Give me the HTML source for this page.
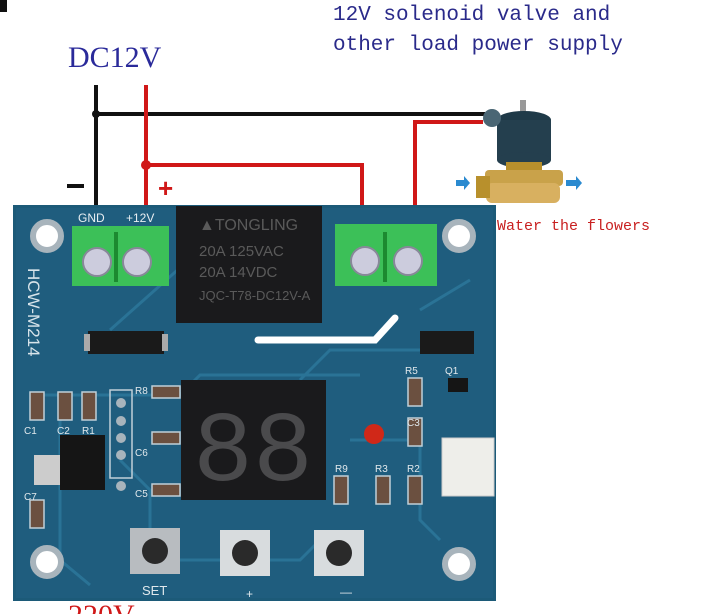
<!DOCTYPE html>
<html><head><meta charset="utf-8"><style>
html,body{margin:0;padding:0;background:#fff;width:701px;height:614px;overflow:hidden}
svg{display:block}
text{font-family:"Liberation Sans",sans-serif}
.serif{font-family:"Liberation Serif",serif}
.mono{font-family:"Liberation Mono",monospace}
</style></head><body>
<svg width="701" height="614" viewBox="0 0 701 614" xmlns="http://www.w3.org/2000/svg">
<rect width="701" height="614" fill="#fff"/>
<rect x="0" y="0" width="7" height="12" fill="#111"/>
<text x="333" y="20" class="mono" font-size="21" fill="#2a2a8a">12V solenoid valve and</text>
<text x="333" y="50" class="mono" font-size="21" fill="#2a2a8a">other load power supply</text>
<text x="68" y="67" class="serif" font-size="30" fill="#2a2a9a">DC12V</text>
<g fill="none" stroke-width="4">
<path d="M96 85 V210" stroke="#111"/>
<path d="M96 114 H485" stroke="#111"/>
<path d="M146 85 V210" stroke="#d01818"/>
<path d="M146 165 H362 V210" stroke="#d01818"/>
<path d="M415 210 V122 H483" stroke="#d01818"/>
</g>
<circle cx="96" cy="114" r="4" fill="#111"/>
<circle cx="146" cy="165" r="5" fill="#d01818"/>
<rect x="67" y="184" width="17" height="4" fill="#111"/>
<text x="158" y="197" font-size="26" font-weight="bold" fill="#d01818">+</text>
<!-- valve -->
<rect x="520" y="100" width="6" height="16" fill="#999"/>
<ellipse cx="524" cy="120" rx="27" ry="9" fill="#1f3a48"/>
<rect x="497" y="120" width="54" height="40" fill="#243f4e"/>
<ellipse cx="524" cy="160" rx="27" ry="8" fill="#243f4e"/>
<circle cx="492" cy="118" r="9" fill="#4a6674"/>
<rect x="506" y="162" width="36" height="10" fill="#b8902c"/>
<rect x="485" y="170" width="78" height="16" rx="4" fill="#c9a24a"/>
<rect x="486" y="183" width="74" height="20" rx="6" fill="#d8b060"/>
<rect x="476" y="176" width="14" height="22" fill="#b8902c"/>
<path d="M456 180 h8 v-4 l6 7 -6 7 v-4 h-8z" fill="#2a8ad0"/>
<path d="M566 180 h10 v-4 l6 7 -6 7 v-4 h-10z" fill="#2a8ad0"/>
<text x="497" y="230" class="mono" font-size="15" fill="#c82020">Water the flowers</text>
<!-- board -->
<rect x="13" y="205" width="483" height="396" fill="#1c5a78"/>
<rect x="16" y="208" width="477" height="390" fill="#1f5d7e"/>
<g fill="none" stroke="#2a7396" stroke-width="3">
<path d="M40 395 H180 L200 375 H360"/><path d="M60 420 V560 L90 585"/><path d="M120 460 L150 490 V540"/>
<path d="M300 380 L330 350 H460"/><path d="M350 440 H420 V520 L440 540"/><path d="M110 330 L200 250"/>
<path d="M420 310 L470 280"/><path d="M160 560 H300 L320 540"/>
</g>
<g fill="#fff" stroke="#a8b4bc" stroke-width="6">
<circle cx="47" cy="236" r="14"/><circle cx="459" cy="236" r="14"/>
<circle cx="47" cy="562" r="14"/><circle cx="459" cy="564" r="14"/>
</g>
<text x="78" y="222" font-size="12" fill="#e8eef2">GND</text>
<text x="126" y="222" font-size="12" fill="#e8eef2">+12V</text>
<rect x="72" y="226" width="97" height="60" fill="#3cc058"/>
<rect x="114" y="232" width="4" height="50" fill="#1c8a30"/>
<circle cx="97" cy="262" r="14" fill="#ccd" stroke="#889" stroke-width="2"/>
<circle cx="137" cy="262" r="14" fill="#ccd" stroke="#889" stroke-width="2"/>
<rect x="335" y="224" width="102" height="62" fill="#3cc058"/>
<rect x="383" y="232" width="4" height="50" fill="#1c8a30"/>
<circle cx="365" cy="261" r="14" fill="#ccd" stroke="#889" stroke-width="2"/>
<circle cx="408" cy="261" r="14" fill="#ccd" stroke="#889" stroke-width="2"/>
<rect x="176" y="206" width="146" height="117" fill="#1a1a1c"/>
<text x="199" y="230" font-size="16" fill="#5a5a5a">▲TONGLING</text>
<text x="199" y="256" font-size="15" fill="#5a5a5a">20A  125VAC</text>
<text x="199" y="277" font-size="15" fill="#5a5a5a">20A   14VDC</text>
<text x="199" y="300" font-size="13" fill="#5a5a5a">JQC-T78-DC12V-A</text>
<path d="M258 340 H375 L395 318" stroke="#fff" stroke-width="7" fill="none" stroke-linecap="round"/>
<text transform="translate(28,268) rotate(90)" font-size="17" fill="#d8e4ea">HCW-M214</text>
<rect x="88" y="331" width="76" height="23" fill="#1a1a1a"/><rect x="84" y="334" width="6" height="17" fill="#aaa"/><rect x="162" y="334" width="6" height="17" fill="#aaa"/>
<rect x="420" y="331" width="54" height="23" fill="#1a1a1a"/>
<rect x="181" y="380" width="145" height="120" fill="#1a1a1c"/>
<text x="193" y="480" font-size="100" fill="#4a4a4c" class="mono">88</text>
<g fill="#6b5040" stroke="#c0d0d8" stroke-width="1.5">
<rect x="30" y="392" width="14" height="28"/><rect x="58" y="392" width="14" height="28"/><rect x="82" y="392" width="14" height="28"/>
<rect x="30" y="500" width="14" height="28"/>
<rect x="408" y="378" width="14" height="28"/><rect x="408" y="418" width="14" height="28"/>
<rect x="376" y="476" width="14" height="28"/><rect x="408" y="476" width="14" height="28"/><rect x="334" y="476" width="14" height="28"/>
<rect x="152" y="386" width="28" height="12"/><rect x="152" y="432" width="28" height="12"/><rect x="152" y="484" width="28" height="12"/>
</g>
<rect x="110" y="390" width="22" height="88" fill="none" stroke="#c0d0d8" stroke-width="1.5"/>
<g fill="#a8b4bc"><circle cx="121" cy="403" r="5"/><circle cx="121" cy="421" r="5"/><circle cx="121" cy="438" r="5"/><circle cx="121" cy="455" r="5"/><circle cx="121" cy="486" r="5"/></g>
<rect x="60" y="435" width="45" height="55" fill="#151515"/><rect x="34" y="455" width="26" height="30" fill="#ccc"/>
<rect x="448" y="378" width="20" height="14" fill="#151515"/>
<circle cx="374" cy="434" r="10" fill="#d02818"/>
<rect x="442" y="438" width="52" height="58" fill="#eeeeea" stroke="#ccc"/>
<g font-size="10" fill="#e0e8ec"><text x="24" y="434">C1</text><text x="57" y="434">C2</text><text x="82" y="434">R1</text><text x="24" y="500">C7</text>
<text x="135" y="394">R8</text><text x="135" y="456">C6</text><text x="135" y="497">C5</text><text x="405" y="374">R5</text><text x="445" y="374">Q1</text>
<text x="407" y="426">C3</text><text x="335" y="472">R9</text><text x="375" y="472">R3</text><text x="407" y="472">R2</text></g>
<rect x="130" y="528" width="50" height="46" fill="#b8bcc0"/><circle cx="155" cy="551" r="13" fill="#2a2a2a"/>
<rect x="220" y="530" width="50" height="46" fill="#d8dcde"/><circle cx="245" cy="553" r="13" fill="#2a2a2a"/>
<rect x="314" y="530" width="50" height="46" fill="#d8dcde"/><circle cx="339" cy="553" r="13" fill="#2a2a2a"/>
<text x="142" y="595" font-size="13" fill="#e0e8ec">SET</text>
<text x="246" y="598" font-size="12" fill="#e0e8ec">+</text>
<text x="340" y="596" font-size="12" fill="#e0e8ec">—</text>
<text x="68" y="625" class="serif" font-size="30" fill="#d01818">220V</text>
</svg>
</body></html>
